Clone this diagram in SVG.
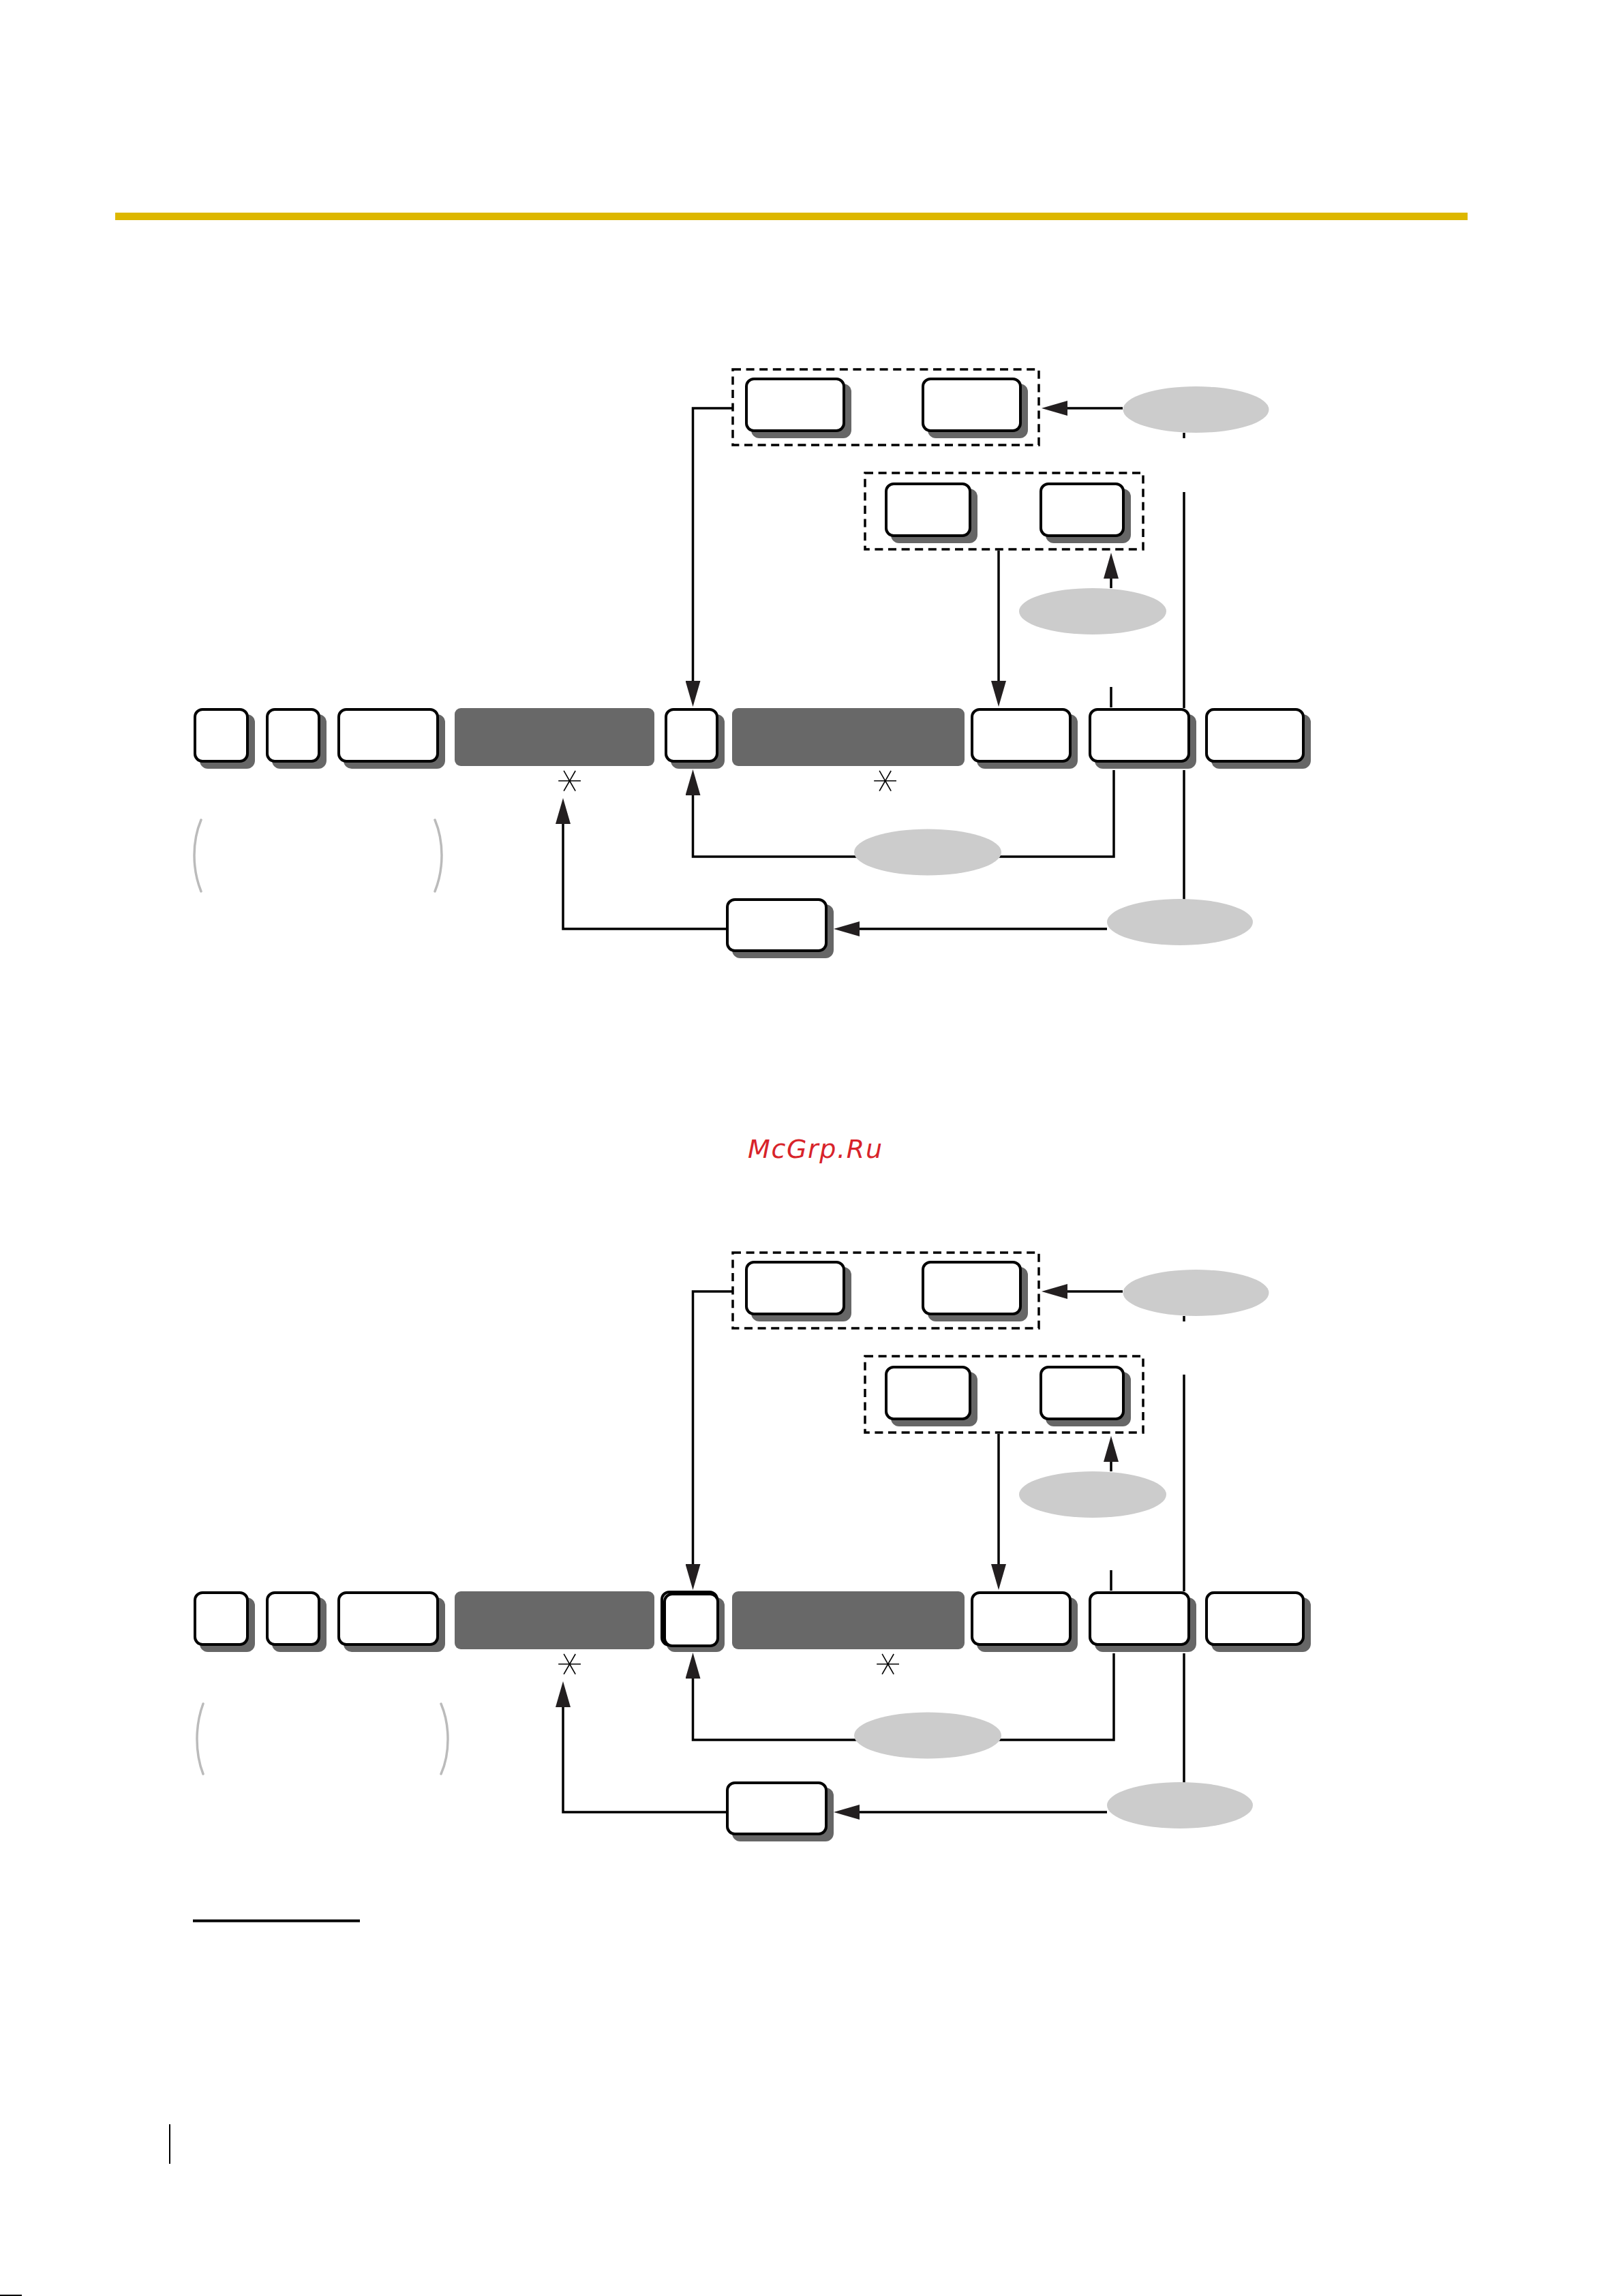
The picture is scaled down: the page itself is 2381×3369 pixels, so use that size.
<svg xmlns="http://www.w3.org/2000/svg" width="2381" height="3369" viewBox="0 0 2381 3369">
<style>
.sh{fill:#666666}
.box{fill:#ffffff;stroke:#000000;stroke-width:4}
.bar{fill:#686868}
.ell{fill:#cccccc}
.dash{fill:none;stroke:#000000;stroke-width:3.5;stroke-dasharray:12 7.6}
.ln{fill:none;stroke:#000000;stroke-width:3.5;stroke-linejoin:miter}
.ar{marker-end:url(#ah)}
.par{fill:none;stroke:#bbbbbb;stroke-width:3.5;stroke-linecap:round}
.ast{font-family:"DejaVu Sans",sans-serif;font-weight:200;font-size:72px;fill:#000000}
</style>
<defs>
<marker id="ah" markerUnits="userSpaceOnUse" viewBox="0 0 40 22" markerWidth="40" markerHeight="22" refX="8" refY="11" orient="auto">
<path d="M0,0 L38,11 L0,22 z" fill="#231f20"/>
</marker>
</defs>
<rect width="2381" height="3369" fill="#ffffff"/>
<rect id="goldbar" x="169" y="312" width="1984" height="11" fill="#ddb700"/>

<!-- ===== Diagram 1 ===== -->
<g id="d1-connectors">
<path class="ln ar" d="M1647,599 H1558"/>
<path class="ln ar" d="M1075,599 H1016.5 V1007"/>
<path class="ln ar" d="M1630,863 V841"/>
<path class="ln ar" d="M1465,808 V1007"/>
<path class="ln" d="M1737,635 V643"/>
<path class="ln" d="M1737,722 V1039"/>
<path class="ln" d="M1737,1130 V1320"/>
<path class="ln" d="M1630,1008 V1038"/>
<path class="ln ar" d="M1634,1130 V1257 H1016.5 V1159"/>
<path class="ln ar" d="M1624,1363 H1253"/>
<path class="ln ar" d="M1066,1363 H826 V1201"/>
</g>
<g id="d1-group1"><rect class="dash" x="1075" y="542" width="449" height="111"/></g>
<g id="d1-group2"><rect class="dash" x="1269" y="694" width="408" height="112"/></g>
<g id="d1-a1" transform="translate(1093,554)"><rect class="sh" x="9" y="9" width="147" height="80" rx="12"/><rect class="box" x="2" y="2" width="143" height="76" rx="11"/></g>
<g id="d1-a2" transform="translate(1352,554)"><rect class="sh" x="9" y="9" width="147" height="80" rx="12"/><rect class="box" x="2" y="2" width="143" height="76" rx="11"/></g>
<g id="d1-b1" transform="translate(1298,708)"><rect class="sh" x="9" y="9" width="127" height="80" rx="12"/><rect class="box" x="2" y="2" width="123" height="76" rx="11"/></g>
<g id="d1-b2" transform="translate(1525,708)"><rect class="sh" x="9" y="9" width="125" height="80" rx="12"/><rect class="box" x="2" y="2" width="121" height="76" rx="11"/></g>
<g id="d1-r1" transform="translate(284,1039)"><rect class="sh" x="9" y="9" width="81" height="80" rx="12"/><rect class="box" x="2" y="2" width="77" height="76" rx="11"/></g>
<g id="d1-r2" transform="translate(390,1039)"><rect class="sh" x="9" y="9" width="80" height="80" rx="12"/><rect class="box" x="2" y="2" width="76" height="76" rx="11"/></g>
<g id="d1-r3" transform="translate(495,1039)"><rect class="sh" x="9" y="9" width="149" height="80" rx="12"/><rect class="box" x="2" y="2" width="145" height="76" rx="11"/></g>
<g id="d1-bar1"><rect class="bar" x="667" y="1039" width="293" height="85" rx="9"/><text class="ast" transform="translate(838,1146) rotate(90)" text-anchor="middle" dominant-baseline="central">∗</text></g>
<g id="d1-r4" transform="translate(975,1039)"><rect class="sh" x="9" y="9" width="79" height="80" rx="12"/><rect class="box" x="2" y="2" width="75" height="76" rx="11"/></g>
<g id="d1-bar2"><rect class="bar" x="1074" y="1039" width="341" height="85" rx="9"/><text class="ast" transform="translate(1301,1146) rotate(90)" text-anchor="middle" dominant-baseline="central">∗</text></g>
<g id="d1-r5" transform="translate(1424,1039)"><rect class="sh" x="9" y="9" width="148" height="80" rx="12"/><rect class="box" x="2" y="2" width="144" height="76" rx="11"/></g>
<g id="d1-r6" transform="translate(1597,1039)"><rect class="sh" x="9" y="9" width="149" height="80" rx="12"/><rect class="box" x="2" y="2" width="145" height="76" rx="11"/></g>
<g id="d1-r7" transform="translate(1768,1039)"><rect class="sh" x="9" y="9" width="146" height="80" rx="12"/><rect class="box" x="2" y="2" width="142" height="76" rx="11"/></g>
<g id="d1-r8" transform="translate(1065,1318)"><rect class="sh" x="9" y="9" width="149" height="79" rx="12"/><rect class="box" x="2" y="2" width="145" height="75" rx="11"/></g>
<g id="d1-e1"><ellipse class="ell" cx="1754.5" cy="601" rx="107" ry="34"/></g>
<g id="d1-e2"><ellipse class="ell" cx="1603" cy="897" rx="108" ry="34"/></g>
<g id="d1-e3"><ellipse class="ell" cx="1361" cy="1250.5" rx="108" ry="34"/></g>
<g id="d1-e4"><ellipse class="ell" cx="1731" cy="1353" rx="107" ry="34"/></g>
<g id="d1-parens">
<path class="par" d="M295,1203 C287,1222 285,1238 285,1255 C285,1272 287,1288 295,1308"/>
<path class="par" d="M638,1203 C646,1222 648,1238 648,1255 C648,1272 646,1288 638,1308"/>
</g>

<text id="watermark" x="1097" y="1699" font-family="DejaVu Sans,sans-serif" font-style="italic" font-size="38" fill="#d8232a" textLength="197" lengthAdjust="spacing">McGrp.Ru</text>

<!-- ===== Diagram 2 ===== -->
<g id="d2-connectors" transform="translate(0,1296)">
<path class="ln ar" d="M1647,599 H1558"/>
<path class="ln ar" d="M1075,599 H1016.5 V1007"/>
<path class="ln ar" d="M1630,863 V841"/>
<path class="ln ar" d="M1465,808 V1007"/>
<path class="ln" d="M1737,635 V643"/>
<path class="ln" d="M1737,721 V1039"/>
<path class="ln" d="M1737,1130 V1320"/>
<path class="ln" d="M1630,1008 V1038"/>
<path class="ln ar" d="M1634,1130 V1257 H1016.5 V1159"/>
<path class="ln ar" d="M1624,1363 H1253"/>
<path class="ln ar" d="M1066,1363 H826 V1201"/>
</g>
<g id="d2-group1" transform="translate(0,1296)"><rect class="dash" x="1075" y="542" width="449" height="111"/></g>
<g id="d2-group2" transform="translate(0,1296)"><rect class="dash" x="1269" y="694" width="408" height="112"/></g>
<g id="d2-a1" transform="translate(1093,1850)"><rect class="sh" x="9" y="9" width="147" height="80" rx="12"/><rect class="box" x="2" y="2" width="143" height="76" rx="11"/></g>
<g id="d2-a2" transform="translate(1352,1850)"><rect class="sh" x="9" y="9" width="147" height="80" rx="12"/><rect class="box" x="2" y="2" width="143" height="76" rx="11"/></g>
<g id="d2-b1" transform="translate(1298,2004)"><rect class="sh" x="9" y="9" width="127" height="80" rx="12"/><rect class="box" x="2" y="2" width="123" height="76" rx="11"/></g>
<g id="d2-b2" transform="translate(1525,2004)"><rect class="sh" x="9" y="9" width="125" height="80" rx="12"/><rect class="box" x="2" y="2" width="121" height="76" rx="11"/></g>
<g id="d2-r1" transform="translate(284,2335)"><rect class="sh" x="9" y="9" width="81" height="80" rx="12"/><rect class="box" x="2" y="2" width="77" height="76" rx="11"/></g>
<g id="d2-r2" transform="translate(390,2335)"><rect class="sh" x="9" y="9" width="80" height="80" rx="12"/><rect class="box" x="2" y="2" width="76" height="76" rx="11"/></g>
<g id="d2-r3" transform="translate(495,2335)"><rect class="sh" x="9" y="9" width="149" height="80" rx="12"/><rect class="box" x="2" y="2" width="145" height="76" rx="11"/></g>
<g id="d2-bar1"><rect class="bar" x="667" y="2335" width="293" height="85" rx="9"/><text class="ast" transform="translate(838,2442) rotate(90)" text-anchor="middle" dominant-baseline="central">∗</text></g>
<g id="d2-r4"><rect class="sh" x="978" y="2344" width="85" height="80" rx="12"/><rect class="box" x="971" y="2336" width="81" height="78" rx="11"/><rect class="box" x="975" y="2339" width="78" height="76" rx="11"/></g>
<g id="d2-bar2"><rect class="bar" x="1074" y="2335" width="341" height="85" rx="9"/><text class="ast" transform="translate(1304.5,2442) rotate(90)" text-anchor="middle" dominant-baseline="central">∗</text></g>
<g id="d2-r5" transform="translate(1424,2335)"><rect class="sh" x="9" y="9" width="148" height="80" rx="12"/><rect class="box" x="2" y="2" width="144" height="76" rx="11"/></g>
<g id="d2-r6" transform="translate(1597,2335)"><rect class="sh" x="9" y="9" width="149" height="80" rx="12"/><rect class="box" x="2" y="2" width="145" height="76" rx="11"/></g>
<g id="d2-r7" transform="translate(1768,2335)"><rect class="sh" x="9" y="9" width="146" height="80" rx="12"/><rect class="box" x="2" y="2" width="142" height="76" rx="11"/></g>
<g id="d2-r8" transform="translate(1065,2614)"><rect class="sh" x="9" y="9" width="149" height="79" rx="12"/><rect class="box" x="2" y="2" width="145" height="75" rx="11"/></g>
<g id="d2-e1"><ellipse class="ell" cx="1754.5" cy="1897" rx="107" ry="34"/></g>
<g id="d2-e2"><ellipse class="ell" cx="1603" cy="2193" rx="108" ry="34"/></g>
<g id="d2-e3"><ellipse class="ell" cx="1361" cy="2546.5" rx="108" ry="34"/></g>
<g id="d2-e4"><ellipse class="ell" cx="1731" cy="2649" rx="107" ry="34"/></g>
<g id="d2-parens">
<path class="par" d="M298,2500 C291,2519 289,2535 289,2552 C289,2569 291,2585 298,2603"/>
<path class="par" d="M647,2500 C655,2519 657,2535 657,2552 C657,2569 655,2585 647,2603"/>
</g>

<rect id="footnote-rule" x="283" y="2816.5" width="245" height="4" fill="#000000"/>
<rect id="margin-bar" x="248" y="3117" width="2" height="58" fill="#000000"/>
<rect id="corner-mark" x="0" y="3367" width="32" height="2" fill="#000000"/>
</svg>
